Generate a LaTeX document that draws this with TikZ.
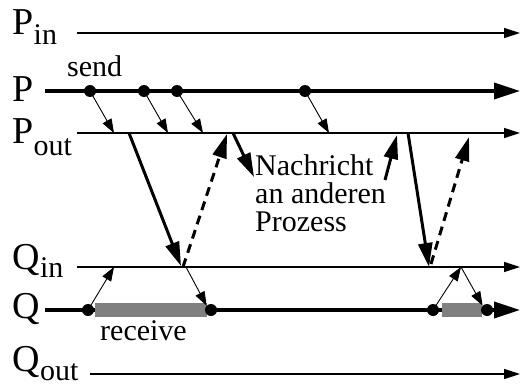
\documentclass[tikz,border=0pt]{standalone}
\usepackage{fontspec}
\setmainfont{Liberation Serif}
\usetikzlibrary{arrows.meta}

\begin{document}
\begin{tikzpicture}[x=1pt,y=-1pt,
  axis/.style={line width=1.2pt,-{Triangle[length=16pt,width=10pt]}},
  mainaxis/.style={line width=3.5pt,-{Triangle[length=26pt,width=16pt]}},
  local/.style={line width=0.9pt,-{Triangle[length=14pt,width=10pt]}},
  msg/.style={line width=3pt,-{Triangle[length=24pt,width=14pt]}},
  reply/.style={msg,dash pattern=on 9pt off 6pt},
  dot/.style={circle,fill=black,inner sep=0pt,minimum size=12pt},
  busy/.style={fill=gray,draw=none},
  lbl/.style={font=\fontsize{38}{38}\selectfont,inner sep=0pt,anchor=base west},
  txt/.style={font=\fontsize{30}{28}\selectfont,inner sep=0pt}
]
% lowered channel index; its box keeps the letter's height and no depth
\newcommand\chansub[2]{\raisebox{-#1}[\height][0pt]{\fontsize{30}{30}\selectfont #2}}
\useasboundingbox (0,0) rectangle (521,385);

% channel and process lines
\coordinate (pinS) at (77,33);   \coordinate (pinE) at (520,33);
\coordinate (pS) at (45,91);     \coordinate (pE) at (520,91);
\coordinate (poutS) at (77,133); \coordinate (poutE) at (520,133);
\coordinate (qinS) at (77,267);  \coordinate (qinE) at (520,267);
\coordinate (qS) at (45,310);    \coordinate (qE) at (520,310);
\coordinate (qoutS) at (90,374); \coordinate (qoutE) at (520,374);

\draw[axis] (pinS) -- (pinE);
\draw[mainaxis] (pS) -- (pE);
\draw[axis] (poutS) -- (poutE);
\draw[axis] (qinS) -- (qinE);
\draw[mainaxis] (qS) -- (qE);
\draw[axis] (qoutS) -- (qoutE);

% receive phases of Q, laid over the process line
\fill[busy] (95,303) rectangle (207,317);
\fill[busy] (442,303) rectangle (482,317);

% labels
\node[lbl] (lpin) at (12.4,35) {P\chansub{10pt}{in}};
\node[lbl] (lp) at (12.4,102) {P};
\node[lbl] (lpout) at (12.4,143) {P\chansub{12pt}{out}};
\node[lbl] (lqin) at (12.4,269) {Q\chansub{8pt}{in}};
\node[lbl] (lq) at (12.4,318.5) {Q};
\node[lbl] (lqout) at (12.4,371.5) {Q\chansub{9pt}{out}};

\node[txt,anchor=base west] (send) at (67,77) {send};
\node[txt,anchor=base west] (recv) at (100,340) {receive};
\node[txt,anchor=north west,align=left] (note) at (255,154.5) {Nachricht\\an anderen\\Prozess};

% events on P
\node[dot] (e1) at (90,91) {};
\node[dot] (e2) at (144,91) {};
\node[dot] (e3) at (177,91) {};
\node[dot] (e4) at (305,91) {};
\coordinate (o1) at (114,133);
\coordinate (o2) at (168,133);
\coordinate (o3) at (203,133);
\coordinate (o4) at (329,133);
\draw[local] (e1.center) -- (o1);
\draw[local] (e2.center) -- (o2);
\draw[local] (e3.center) -- (o3);
\draw[local] (e4.center) -- (o4);

% events on Q
\node[dot] (f1) at (88,310) {};
\node[dot] (f2) at (211,310) {};
\node[dot] (f3) at (433,310) {};
\node[dot] (f4) at (487,310) {};
\coordinate (i1) at (114,267);
\coordinate (i2) at (186,267);
\coordinate (i3) at (461,267);
\draw[local] (f1.center) -- (i1);
\draw[local] (i2) -- (f2.north west);
\draw[local] (f3.center) -- (i3);
\draw[local] (i3) -- (f4.north west);

% messages between the channels
\coordinate (m1s) at (129,133); \coordinate (m1e) at (181,266);
\coordinate (m2s) at (183,267); \coordinate (m2e) at (227,134);
\coordinate (m3s) at (233,133); \coordinate (m3e) at (254,177);
\coordinate (m4s) at (385,180); \coordinate (m4e) at (397,135);
\coordinate (m5s) at (408,133); \coordinate (m5e) at (429,267);
\coordinate (m6s) at (431,264); \coordinate (m6e) at (469,137);
\draw[msg] (m1s) -- (m1e);
\draw[reply] (m2s) -- (m2e);
\draw[msg] (m3s) -- (m3e);
\draw[msg] (m4s) -- (m4e);
\draw[msg] (m5s) -- (m5e);
\draw[reply] (m6s) -- (m6e);
\end{tikzpicture}
\end{document}
